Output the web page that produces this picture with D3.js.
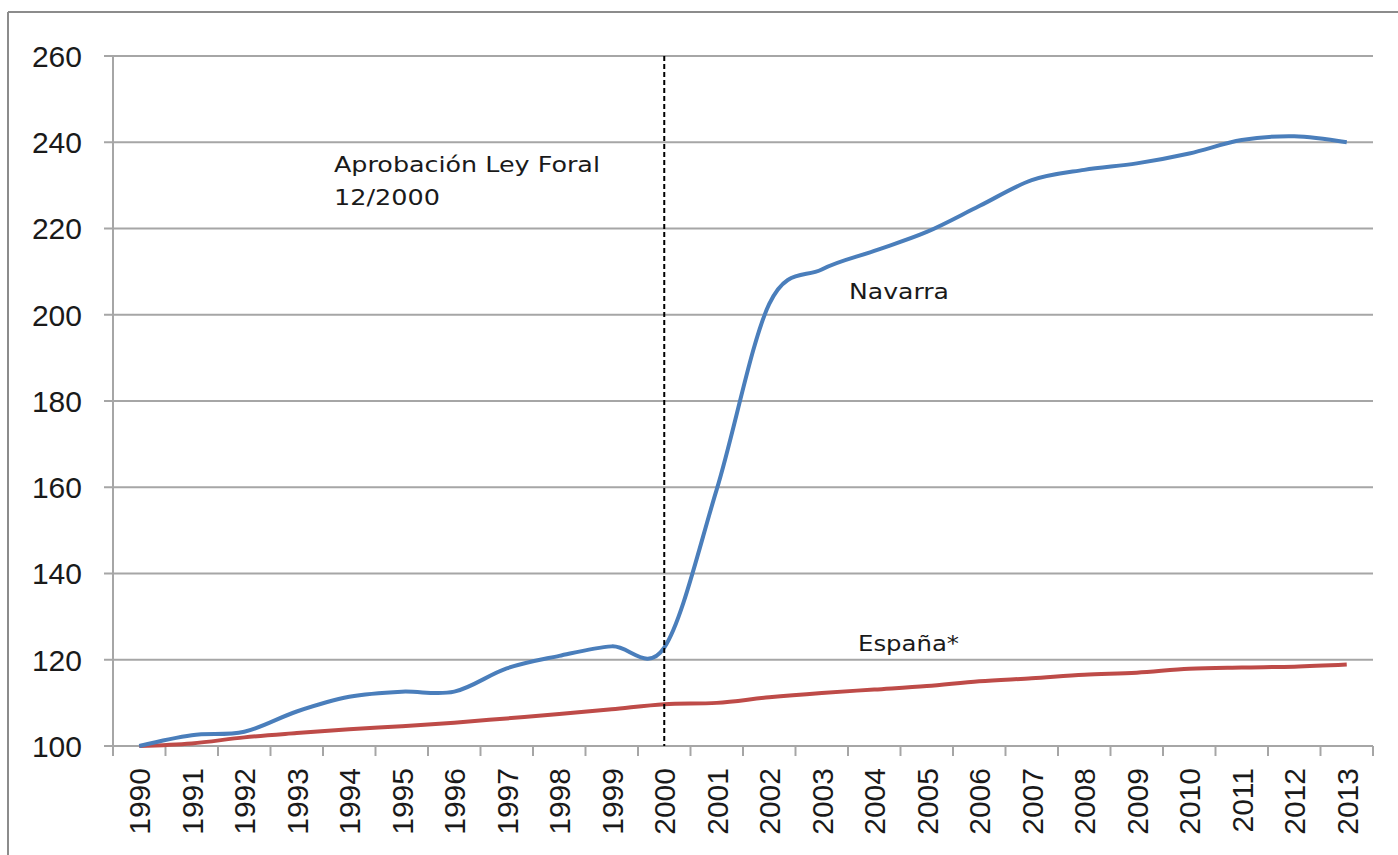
<!DOCTYPE html>
<html>
<head>
<meta charset="utf-8">
<script src="https://cdn.jsdelivr.net/npm/d3@7"></script>
<style>
  body { margin: 0; background: #fff; }
  svg { display: block; }
</style>
</head>
<body>
<svg id="chart" width="1398" height="855"></svg>
<script>
const years = ["1990","1991","1992","1993","1994","1995","1996","1997","1998","1999","2000","2001",
               "2002","2003","2004","2005","2006","2007","2008","2009","2010","2011","2012","2013"];
const navarra = [100, 102.5, 103.3, 108, 111.4, 112.6, 112.6, 118, 120.9, 123.1, 122.8, 159.5,
                 202.5, 210.5, 214.8, 219.2, 225.2, 231.2, 233.6, 235.1, 237.4, 240.5, 241.4, 240];
const espana = [100, 100.6, 102, 103, 103.9, 104.6, 105.4, 106.4, 107.4, 108.5, 109.7, 110,
                111.3, 112.3, 113.1, 113.9, 115, 115.7, 116.5, 117, 117.9, 118.2, 118.4, 118.9];
const yTicks = [100, 120, 140, 160, 180, 200, 220, 240, 260];

const svg = d3.select("#chart");
const margin = { top: 56, right: 25, bottom: 109, left: 113 };
const width = 1398 - margin.left - margin.right;
const height = 855 - margin.top - margin.bottom;

// frame (top and left edges only)
svg.append("line").attr("x1", 8).attr("x2", 1398).attr("y1", 12).attr("y2", 12)
    .attr("stroke", "#8c8c8c").attr("stroke-width", 2);
svg.append("line").attr("x1", 8).attr("x2", 8).attr("y1", 12).attr("y2", 855)
    .attr("stroke", "#8c8c8c").attr("stroke-width", 2);

const g = svg.append("g").attr("transform", `translate(${margin.left},${margin.top})`);

const x = d3.scaleBand().domain(years).range([0, width]);
const y = d3.scaleLinear().domain([100, 260]).range([height, 0]);

// gridlines
g.selectAll(".grid").data(yTicks).enter().append("line")
    .attr("x1", -9).attr("x2", width)
    .attr("y1", d => y(d)).attr("y2", d => y(d))
    .attr("stroke", "#a6a6a6").attr("stroke-width", 2);

// y axis
g.append("line").attr("x1", 0).attr("x2", 0).attr("y1", 0).attr("y2", height + 10)
    .attr("stroke", "#a6a6a6").attr("stroke-width", 2);
g.selectAll(".ylab").data(yTicks).enter().append("text")
    .attr("x", -31).attr("y", d => y(d)).attr("dy", "0.36em")
    .attr("text-anchor", "end")
    .style("font-family", "'Liberation Sans', Arial, sans-serif")
    .style("font-size", "30px").attr("fill", "#1a1a1a")
    .text(d => d);

// x axis ticks at band boundaries
const bounds = years.map(d => x(d)).concat([width]);
g.selectAll(".xtick").data(bounds).enter().append("line")
    .attr("x1", d => d).attr("x2", d => d).attr("y1", height).attr("y2", height + 10)
    .attr("stroke", "#a6a6a6").attr("stroke-width", 2);
g.selectAll(".xlab").data(years).enter().append("text")
    .attr("transform", d => `translate(${x(d) + x.bandwidth() / 2 + 11},${height + 22}) rotate(-90)`)
    .attr("text-anchor", "end")
    .style("font-family", "'Liberation Sans', Arial, sans-serif")
    .style("font-size", "30px").attr("fill", "#1a1a1a")
    .text(d => d);

const cx = d => x(d) + x.bandwidth() / 2;
const line = d3.line()
    .x((d, i) => cx(years[i]))
    .y(d => y(d))
    .curve(d3.curveCatmullRom.alpha(0));

g.append("path").datum(espana).attr("d", line)
    .attr("fill", "none").attr("stroke", "#be4b48").attr("stroke-width", 4);
g.append("path").datum(navarra).attr("d", line)
    .attr("fill", "none").attr("stroke", "#4a7ebb").attr("stroke-width", 4);

// vertical dashed marker at 2000
g.append("line").attr("x1", cx("2000")).attr("x2", cx("2000"))
    .attr("y1", 0).attr("y2", height)
    .attr("stroke", "#000").attr("stroke-width", 2).attr("stroke-dasharray", "5,3");

// annotations
const ann = (tx, ty, txt, len) => g.append("text")
    .attr("x", tx - margin.left).attr("y", ty - margin.top)
    .attr("textLength", len).attr("lengthAdjust", "spacingAndGlyphs")
    .style("font-family", "'DejaVu Sans', Verdana, sans-serif")
    .style("font-size", "22px").attr("fill", "#1a1a1a")
    .text(txt);
ann(334, 172, "Aprobación Ley Foral", 266);
ann(334, 205, "12/2000", 106);
ann(849, 299, "Navarra", 100);
ann(858, 651, "España*", 101);
</script>
</body>
</html>
